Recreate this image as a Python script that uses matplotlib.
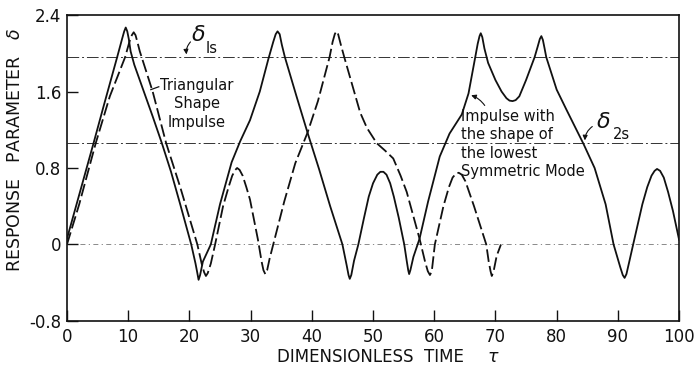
import matplotlib
matplotlib.use("Agg")
import matplotlib.pyplot as plt

# ---- data ----
tau_mode = [0, 2, 4.3, 6, 8.2, 9.0, 9.35, 9.6, 9.85, 10.1, 10.4, 11.0, 12, 14, 15.5, 17, 18.5,
            20.3, 21.0, 21.3, 21.5, 21.75, 22.2, 23.5, 25, 26.9, 28.3, 29.9, 31.5, 32.9, 33.7,
            34.1, 34.4, 34.75, 35.1, 35.6, 37.5, 39.3, 41.2, 43, 45.0, 45.7, 46.0, 46.2, 46.45,
            46.9, 47.6, 48.5, 49.3, 50.0, 50.7, 51.2, 51.7, 52.2, 52.8, 53.4, 54.2, 55.1, 55.5,
            55.75, 55.9, 56.1, 56.6, 57.6, 59, 60.9, 62.5, 64.5, 65.6, 66.7, 67.1, 67.4, 67.6,
            67.85, 68.2, 68.8, 70, 71, 71.8, 72.3, 72.8, 73.3, 73.9, 75, 76.4, 76.9, 77.25,
            77.5, 77.75, 78.0, 78.3, 80, 81.6, 84.4, 86.2, 88, 89.3, 90.4, 90.8, 91.1, 91.4,
            91.9, 92.5, 94, 94.8, 95.5, 96.0, 96.4, 96.9, 97.5, 98.2, 99.0, 100]
delta_mode = [0.06, 0.52, 1.05, 1.45, 1.96, 2.15, 2.23, 2.27, 2.23, 2.15, 2.02, 1.88, 1.7,
              1.34, 1.06, 0.76, 0.42, 0.0, -0.2, -0.3, -0.37, -0.32, -0.18, 0.0, 0.42, 0.86,
              1.08, 1.3, 1.6, 1.94, 2.12, 2.2, 2.23, 2.2, 2.09, 1.96, 1.55, 1.17, 0.785, 0.4,
              0.0, -0.22, -0.32, -0.36, -0.32, -0.17, 0.0, 0.27, 0.5, 0.64, 0.73, 0.76, 0.76,
              0.73, 0.64, 0.5, 0.28, 0.0, -0.17, -0.27, -0.31, -0.27, -0.13, 0.06, 0.45, 0.92,
              1.16, 1.36, 1.58, 1.96, 2.1, 2.18, 2.21, 2.17, 2.05, 1.9, 1.72, 1.6, 1.53, 1.505,
              1.50, 1.51, 1.55, 1.72, 1.96, 2.07, 2.15, 2.18, 2.14, 2.06, 1.96, 1.62, 1.41,
              1.05, 0.8, 0.42, 0.0, -0.24, -0.32, -0.35, -0.31, -0.17, 0.0, 0.42, 0.6, 0.72,
              0.77, 0.79, 0.77, 0.7, 0.55, 0.35, 0.05]

tau_tri = [0, 2, 4.7, 7, 9.5, 10.2, 10.6, 10.9, 11.2, 11.5, 11.9, 12.5, 14, 16.2, 18.5, 21.3,
           22.0, 22.4, 22.7, 23.0, 23.5, 24.2, 25.5, 26.4, 27.0, 27.5, 27.8, 28.2, 28.7, 29.3,
           29.9, 31.2, 31.8, 32.1, 32.4, 32.7, 33.1, 33.7, 35.5, 37.3, 39.3, 41, 42.9, 43.4,
           43.75, 44.0, 44.3, 44.7, 45.3, 47.9, 49.0, 50.6, 52, 53.3, 54.5, 55.5, 57.6, 58.5,
           58.95, 59.3, 59.6, 60.1, 61.5, 62.4, 63.0, 63.6, 64.0, 64.5, 65.1, 65.8, 66.5, 68.5,
           68.9, 69.2, 69.4, 69.7, 70.2, 70.9]
delta_tri = [0.0, 0.42, 1.06, 1.55, 1.96, 2.12, 2.19, 2.22, 2.19, 2.12, 2.02, 1.9, 1.6, 1.06,
             0.6, 0.0, -0.2, -0.29, -0.33, -0.3, -0.2, 0.0, 0.4, 0.6, 0.72, 0.78, 0.80, 0.78,
             0.72, 0.6, 0.47, 0.05, -0.18, -0.27, -0.31, -0.27, -0.15, 0.0, 0.45, 0.85, 1.17,
             1.5, 1.96, 2.12, 2.2, 2.23, 2.2, 2.1, 1.96, 1.38, 1.22, 1.06, 0.98, 0.9, 0.72,
             0.55, 0.06, -0.18, -0.28, -0.32, -0.28, 0.0, 0.4, 0.6, 0.7, 0.745, 0.75, 0.73,
             0.66, 0.53, 0.4, 0.0, -0.18, -0.28, -0.33, -0.28, -0.12, 0.0]

delta_1s = 1.96
delta_2s = 1.06

x_ticks = [0, 10, 20, 30, 40, 50, 60, 70, 80, 90, 100]
y_ticks = [-0.8, 0, 0.8, 1.6, 2.4]
y_ticklabels = ["-0.8", "0", "0.8", "1.6", "2.4"]

# ---- figure ----
fig = plt.figure(figsize=(6.94, 3.68), dpi=100)
ax = fig.add_axes([0.0965, 0.128, 0.882, 0.831])
ink = "#111111"

dashdot = (0, (12, 3, 2, 3))
for yv in (delta_1s, delta_2s):
    ax.axhline(yv, color="#333333", lw=0.7, ls=dashdot, zorder=1)
ax.axhline(0, color="#777777", lw=0.6, ls=(0, (6, 4, 1.5, 4)), zorder=1)

ax.plot(tau_mode, delta_mode, color=ink, lw=1.3, solid_joinstyle="round", zorder=3)
ax.plot(tau_tri, delta_tri, color=ink, lw=1.3, dashes=(7, 2.3), zorder=3)

ax.set_xlim(0, 100)
ax.set_ylim(-0.8, 2.4)
ax.set_xticks(x_ticks)
ax.set_xticklabels([str(t) for t in x_ticks])
ax.set_yticks(y_ticks)
ax.set_yticklabels(y_ticklabels)
ax.tick_params(direction="in", length=8, width=1.0, labelsize=12, colors=ink, pad=4)
ax.tick_params(axis="x", pad=5)
for s in ax.spines.values():
    s.set_color(ink)
    s.set_linewidth(1.2)

ax.set_xlabel("DIMENSIONLESS  TIME", fontsize=12, color=ink)
ax.xaxis.set_label_coords(0.495, -0.09)
ax.text(0.696, -0.09, "$\\tau$", transform=ax.transAxes, fontsize=12.5, color=ink,
        ha="center", va="top")
ax.set_ylabel("RESPONSE   PARAMETER   $\\delta$", fontsize=12.5, color=ink)
ax.yaxis.set_label_coords(-0.071, 0.56)

# annotations
ax.text(21.5, 2.19, "$\\delta$", fontsize=16, color=ink, ha="center", va="center")
ax.text(23.6, 2.05, "Is", fontsize=10.5, color=ink, ha="center", va="center")
ax.annotate("", xy=(19.6, delta_1s), xytext=(20.5, 2.14),
            arrowprops=dict(arrowstyle="-|>", color=ink, lw=0.8, mutation_scale=7,
                            connectionstyle="arc3,rad=0.3"))

ax.text(21.2, 1.47, "Triangular\nShape\nImpulse", fontsize=10.5, color=ink,
        ha="center", va="center", linespacing=1.3)
ax.plot([13.7, 15.0], [1.62, 1.65], color=ink, lw=0.9)

ax.text(64.4, 1.05, "Impulse with\nthe shape of\nthe lowest\nSymmetric Mode", fontsize=10.5,
        color=ink, ha="left", va="center", linespacing=1.28)
ax.annotate("", xy=(65.6, 1.57), xytext=(68.5, 1.43),
            arrowprops=dict(arrowstyle="-|>", color=ink, lw=0.8, mutation_scale=7,
                            connectionstyle="arc3,rad=0.2"))

ax.text(87.6, 1.28, "$\\delta$", fontsize=16, color=ink, ha="center", va="center")
ax.text(90.6, 1.15, "2s", fontsize=10.5, color=ink, ha="center", va="center")
ax.annotate("", xy=(84.6, delta_2s), xytext=(86.2, 1.25),
            arrowprops=dict(arrowstyle="-|>", color=ink, lw=0.8, mutation_scale=7,
                            connectionstyle="arc3,rad=0.3"))

fig.savefig("out.png", dpi=100)
